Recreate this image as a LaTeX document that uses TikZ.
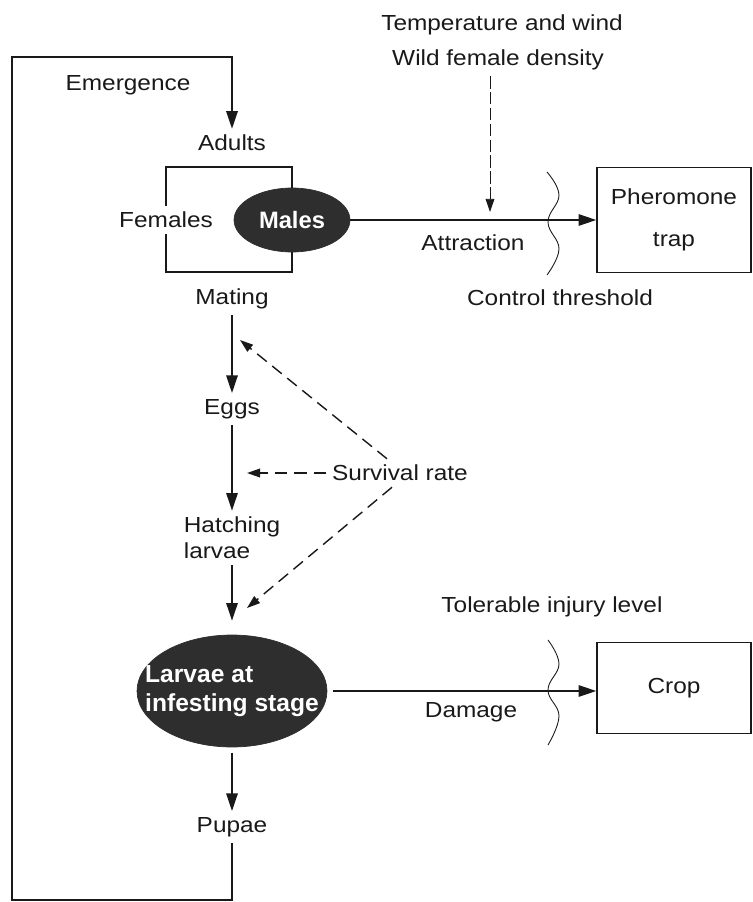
\documentclass[tikz,border=0pt]{standalone}
\usepackage{fontspec}
\setmainfont[FakeStretch=1.12]{Liberation Sans}
\newfontfamily\ovalfont{Liberation Sans}
\usetikzlibrary{arrows.meta, shapes.geometric, calc, positioning}
\definecolor{ink}{gray}{0.1}
\definecolor{oval}{gray}{0.18}

\begin{document}
\begin{tikzpicture}[x=0.02cm, y=-0.02cm,
  every node/.style={text=ink, font=\fontsize{12.4}{15}\selectfont},
  blob/.style={ellipse, fill=oval, draw=oval, inner sep=0pt, text=white},
  box/.style={draw=ink, line width=0.9pt, minimum width=3.08cm, align=center},
  flow/.style={draw=ink, line width=0.9pt, -{Triangle[length=10pt,width=6.5pt]}},
  hint/.style={draw=ink, line width=0.8pt, dash pattern=on 7pt off 4pt, -{Triangle[length=7.5pt,width=5pt]}},
  wave/.style={draw=ink, line width=0.5pt}]
\useasboundingbox (0,0) rectangle (753,902);

% life cycle
\node (emerg) at (128,85) {Emergence};
\node (adults) at (232,143) {Adults};
\node (females) at (166,220) {Females};
\node[blob, minimum width=2.32cm, minimum height=1.28cm, font=\ovalfont\bfseries\fontsize{13.5}{15}\selectfont] (males) at (292,220) {Males};
\node (mating) at (232,299) {Mating};
\node (eggs) at (232,409) {Eggs};
\node[align=left] (hatch) at (232,538) {Hatching\\larvae};
\node[blob, inner xsep=-16pt, minimum width=3.8cm, minimum height=2.24cm, align=left, font=\ovalfont\bfseries\fontsize{14}{16.5}\selectfont] (larvae) at (232,691) {Larvae at\\infesting stage};
\node (pupae) at (232,827) {Pupae};

% trap and crop side
\node (temp) at (502,25) {Temperature and wind};
\node (wild) at (498,60) {Wild female density};
\node (attract) at (473,243) {Attraction};
\node (ctrl) at (560,298) {Control threshold};
\node[box, minimum height=2.1cm, font=\fontsize{12.4}{24}\selectfont] (trap) at (674,220) {Pheromone\\trap};
\node (survival) at (400,473) {Survival rate};
\node (toler) at (552,607) {Tolerable injury level};
\node (damage) at (471,712) {Damage};
\node[box, minimum height=1.82cm] (crop) at (674,688) {Crop};

\coordinate (loopBL) at (12,900);
\coordinate (loopTL) at (12,57);
\coordinate (brTop) at (292,167);
\coordinate (brBot) at (292,272);
\coordinate (windTip) at (490,212);
\coordinate (upTip) at (240,340);
\coordinate (sideTip) at (247,473);
\coordinate (downTip) at (247,608);

% emergence loop and adult bracket
\draw[flow] (pupae.south) |- (loopBL) -- (loopTL) -| (adults.north);
\draw[draw=ink, line width=0.9pt] (females.north) |- (brTop) -- (males.north);
\draw[draw=ink, line width=0.9pt] (females.south) |- (brBot) -- (males.south);

\draw[flow] (mating) -- (eggs);
\draw[flow] (eggs) -- (hatch);
\draw[flow, shorten >=8pt] (hatch) -- (larvae);
\draw[flow, shorten <=3pt] (larvae) -- (pupae);
\draw[flow] (males) -- (trap);
\draw[flow, shorten <=3pt] (larvae.east) -- (larvae.east -| crop.west);

% influences
\draw[hint, line width=0.5pt, dash pattern=on 7pt off 2pt] (wild.south -| windTip) -- (windTip);
\draw[hint] ($(survival.north)+(-13,0)$) -- (upTip);
\draw[hint] (survival.west) -- (sideTip);
\draw[hint] ($(survival.south)+(-8,0)$) -- (downTip);

% thresholds
\draw[wave] plot[smooth, tension=0.7] coordinates {(547,172) (559,195) (548,222) (559,249) (547,275)};
\draw[wave] plot[smooth, tension=0.7] coordinates {(548,640) (559,664) (548,690) (559,716) (548,745)};
\end{tikzpicture}
\end{document}
